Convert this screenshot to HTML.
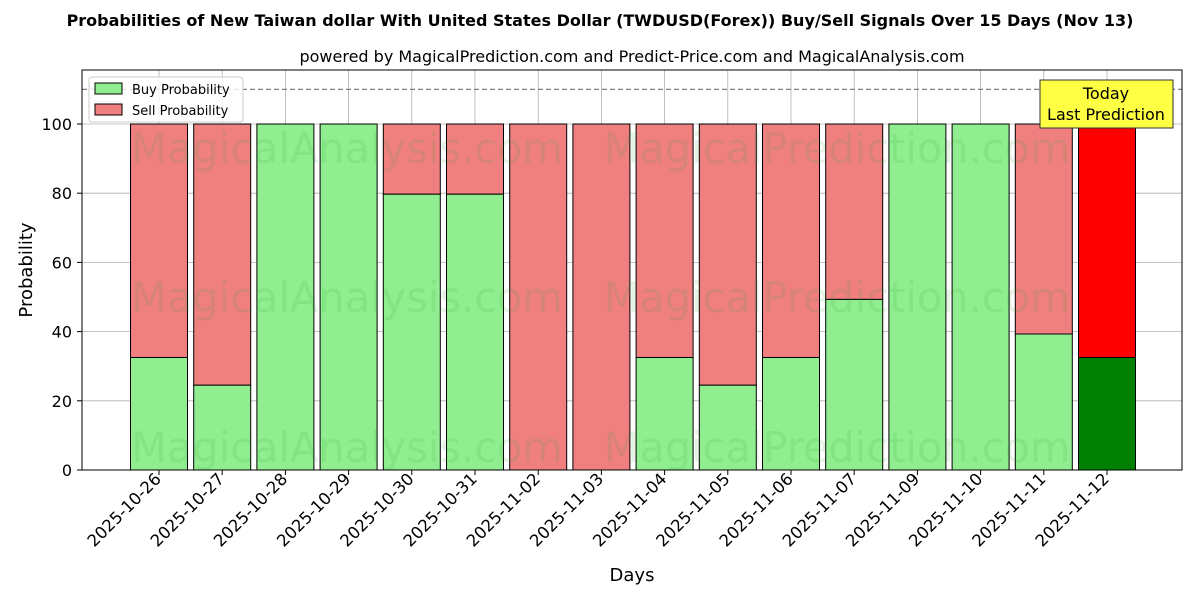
<!DOCTYPE html>
<html><head><meta charset="utf-8"><style>body{margin:0;background:#fff}svg{display:block}</style></head>
<body>
<svg width="1200" height="600" xmlns="http://www.w3.org/2000/svg" font-family="'DejaVu Sans','Liberation Sans',sans-serif">
<rect width="1200" height="600" fill="#fff"/>
<text x="600" y="26" text-anchor="middle" font-size="16" font-weight="bold">Probabilities of New Taiwan dollar With United States Dollar (TWDUSD(Forex)) Buy/Sell Signals Over 15 Days (Nov 13)</text>
<text x="632" y="62" text-anchor="middle" font-size="16">powered by MagicalPrediction.com and Predict-Price.com and MagicalAnalysis.com</text>
<g stroke="#b0b0b0" stroke-width="0.8">
<line x1="82" x2="1182" y1="470" y2="470"/><line x1="82" x2="1182" y1="400.8" y2="400.8"/><line x1="82" x2="1182" y1="331.6" y2="331.6"/><line x1="82" x2="1182" y1="262.4" y2="262.4"/><line x1="82" x2="1182" y1="193.2" y2="193.2"/><line x1="82" x2="1182" y1="124" y2="124"/>
<line x1="159" x2="159" y1="70" y2="470"/><line x1="222.2" x2="222.2" y1="70" y2="470"/><line x1="285.4" x2="285.4" y1="70" y2="470"/><line x1="348.6" x2="348.6" y1="70" y2="470"/><line x1="411.8" x2="411.8" y1="70" y2="470"/><line x1="475" x2="475" y1="70" y2="470"/><line x1="538.2" x2="538.2" y1="70" y2="470"/><line x1="601.4" x2="601.4" y1="70" y2="470"/><line x1="664.6" x2="664.6" y1="70" y2="470"/><line x1="727.8" x2="727.8" y1="70" y2="470"/><line x1="791" x2="791" y1="70" y2="470"/><line x1="854.2" x2="854.2" y1="70" y2="470"/><line x1="917.4" x2="917.4" y1="70" y2="470"/><line x1="980.6" x2="980.6" y1="70" y2="470"/><line x1="1043.8" x2="1043.8" y1="70" y2="470"/><line x1="1107" x2="1107" y1="70" y2="470"/>
</g>
<g stroke="#000" stroke-width="1">
<rect x="130.5" y="124" width="57" height="233.5" fill="#f08080"/><rect x="130.5" y="357.5" width="57" height="112.5" fill="#90ee90"/>
<rect x="193.7" y="124" width="57" height="261.2" fill="#f08080"/><rect x="193.7" y="385.2" width="57" height="84.8" fill="#90ee90"/>
<rect x="256.9" y="124" width="57" height="346" fill="#90ee90"/>
<rect x="320.1" y="124" width="57" height="346" fill="#90ee90"/>
<rect x="383.3" y="124" width="57" height="70.2" fill="#f08080"/><rect x="383.3" y="194.2" width="57" height="275.8" fill="#90ee90"/>
<rect x="446.5" y="124" width="57" height="70.2" fill="#f08080"/><rect x="446.5" y="194.2" width="57" height="275.8" fill="#90ee90"/>
<rect x="509.7" y="124" width="57" height="346" fill="#f08080"/>
<rect x="572.9" y="124" width="57" height="346" fill="#f08080"/>
<rect x="636.1" y="124" width="57" height="233.5" fill="#f08080"/><rect x="636.1" y="357.5" width="57" height="112.5" fill="#90ee90"/>
<rect x="699.3" y="124" width="57" height="261.2" fill="#f08080"/><rect x="699.3" y="385.2" width="57" height="84.8" fill="#90ee90"/>
<rect x="762.5" y="124" width="57" height="233.5" fill="#f08080"/><rect x="762.5" y="357.5" width="57" height="112.5" fill="#90ee90"/>
<rect x="825.7" y="124" width="57" height="175.4" fill="#f08080"/><rect x="825.7" y="299.4" width="57" height="170.6" fill="#90ee90"/>
<rect x="888.9" y="124" width="57" height="346" fill="#90ee90"/>
<rect x="952.1" y="124" width="57" height="346" fill="#90ee90"/>
<rect x="1015.3" y="124" width="57" height="210" fill="#f08080"/><rect x="1015.3" y="334" width="57" height="136" fill="#90ee90"/>
<rect x="1078.5" y="124" width="57" height="233.5" fill="#ff0000"/><rect x="1078.5" y="357.5" width="57" height="112.5" fill="#008000"/>
</g>
<g font-size="41.5" fill="#2ca02c" fill-opacity="0.12" text-anchor="middle">
<text x="347" y="163">MagicalAnalysis.com</text><text x="837" y="163">MagicalPrediction.com</text>
<text x="347" y="312">MagicalAnalysis.com</text><text x="837" y="312">MagicalPrediction.com</text>
<text x="347" y="462">MagicalAnalysis.com</text><text x="837" y="462">MagicalPrediction.com</text>
</g>
<line x1="82" x2="1182" y1="89.4" y2="89.4" stroke="#808080" stroke-dasharray="5,3" stroke-width="1.2"/>
<rect x="82" y="70" width="1100" height="400" fill="none" stroke="#000"/>
<g stroke="#000">
<line x1="77" x2="82" y1="470" y2="470"/><line x1="77" x2="82" y1="400.8" y2="400.8"/><line x1="77" x2="82" y1="331.6" y2="331.6"/><line x1="77" x2="82" y1="262.4" y2="262.4"/><line x1="77" x2="82" y1="193.2" y2="193.2"/><line x1="77" x2="82" y1="124" y2="124"/>
</g>
<g font-size="16" text-anchor="end">
<text x="72" y="476">0</text><text x="72" y="406.8">20</text><text x="72" y="337.6">40</text><text x="72" y="268.4">60</text><text x="72" y="199.2">80</text><text x="72" y="130">100</text>
</g>
<g stroke="#000">
<line x1="159" x2="159" y1="470" y2="475"/><line x1="222.2" x2="222.2" y1="470" y2="475"/><line x1="285.4" x2="285.4" y1="470" y2="475"/><line x1="348.6" x2="348.6" y1="470" y2="475"/><line x1="411.8" x2="411.8" y1="470" y2="475"/><line x1="475" x2="475" y1="470" y2="475"/><line x1="538.2" x2="538.2" y1="470" y2="475"/><line x1="601.4" x2="601.4" y1="470" y2="475"/><line x1="664.6" x2="664.6" y1="470" y2="475"/><line x1="727.8" x2="727.8" y1="470" y2="475"/><line x1="791" x2="791" y1="470" y2="475"/><line x1="854.2" x2="854.2" y1="470" y2="475"/><line x1="917.4" x2="917.4" y1="470" y2="475"/><line x1="980.6" x2="980.6" y1="470" y2="475"/><line x1="1043.8" x2="1043.8" y1="470" y2="475"/><line x1="1107" x2="1107" y1="470" y2="475"/>
</g>
<g font-size="16.5" text-anchor="end">
<text transform="translate(162,480) rotate(-45)">2025-10-26</text>
<text transform="translate(225.2,480) rotate(-45)">2025-10-27</text>
<text transform="translate(288.4,480) rotate(-45)">2025-10-28</text>
<text transform="translate(351.6,480) rotate(-45)">2025-10-29</text>
<text transform="translate(414.8,480) rotate(-45)">2025-10-30</text>
<text transform="translate(478,480) rotate(-45)">2025-10-31</text>
<text transform="translate(541.2,480) rotate(-45)">2025-11-02</text>
<text transform="translate(604.4,480) rotate(-45)">2025-11-03</text>
<text transform="translate(667.6,480) rotate(-45)">2025-11-04</text>
<text transform="translate(730.8,480) rotate(-45)">2025-11-05</text>
<text transform="translate(794,480) rotate(-45)">2025-11-06</text>
<text transform="translate(857.2,480) rotate(-45)">2025-11-07</text>
<text transform="translate(920.4,480) rotate(-45)">2025-11-09</text>
<text transform="translate(983.6,480) rotate(-45)">2025-11-10</text>
<text transform="translate(1046.8,480) rotate(-45)">2025-11-11</text>
<text transform="translate(1110,480) rotate(-45)">2025-11-12</text>
</g>
<rect x="1040" y="80" width="133" height="48" fill="#ffff44" stroke="#333"/>
<text x="1106" y="99" text-anchor="middle" font-size="16">Today</text>
<text x="1106" y="120" text-anchor="middle" font-size="16">Last Prediction</text>
<rect x="89" y="77" width="154" height="45" fill="#fff" fill-opacity="0.8" stroke="#ccc" rx="3"/>
<rect x="95" y="83" width="27" height="11" fill="#90ee90" stroke="#000"/><text x="132" y="94" font-size="13">Buy Probability</text>
<rect x="95" y="104" width="27" height="11" fill="#f08080" stroke="#000"/><text x="132" y="115" font-size="13">Sell Probability</text>
<text transform="translate(32,270) rotate(-90)" text-anchor="middle" font-size="18">Probability</text>
<text x="632" y="581" text-anchor="middle" font-size="18">Days</text>
</svg>
</body></html>
